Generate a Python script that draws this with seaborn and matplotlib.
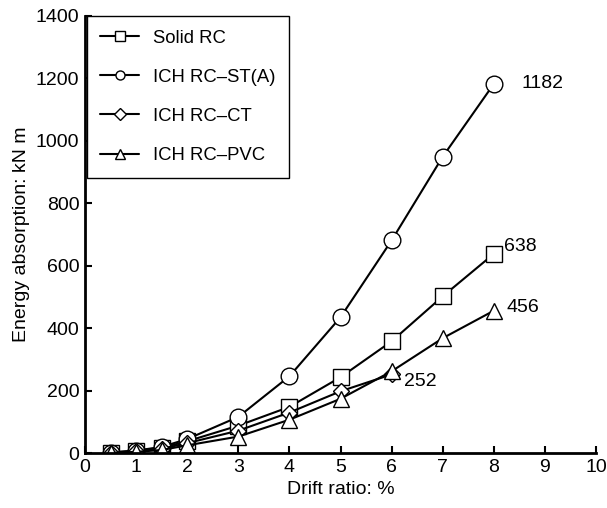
import seaborn as sns
import matplotlib.pyplot as plt
import pandas as pd

drift = [0.5, 1, 1.5, 2, 3, 4, 5, 6, 7, 8]
solid_rc = [2, 8, 17, 38, 88, 148, 243, 358, 502, 638]
ich_st = [2, 8, 20, 45, 116, 246, 435, 681, 949, 1182]
ich_ct = [1, 6, 14, 32, 72, 130, 198, 252, None, None]
ich_pvc = [1, 4, 10, 25, 53, 107, 174, 262, 368, 456]

series = ['Solid RC', 'ICH RC\u2013ST(A)', 'ICH RC\u2013CT', 'ICH RC\u2013PVC']
markers = ['s', 'o', 'D', '^']
sizes = [11, 12, 8, 12]

df = pd.DataFrame({'drift': drift, series[0]: solid_rc, series[1]: ich_st,
                   series[2]: ich_ct, series[3]: ich_pvc})
long = df.melt(id_vars='drift', var_name='series', value_name='energy').dropna()

sns.set_style('ticks', {'axes.edgecolor': 'black', 'text.color': 'black',
                        'axes.labelcolor': 'black', 'xtick.color': 'black',
                        'ytick.color': 'black'})
plt.rcParams['font.family'] = ['Liberation Sans', 'DejaVu Sans']
fs = 14

fig = plt.figure(figsize=(6.07, 5.08), dpi=100)
ax = fig.add_axes([0.140, 0.108, 0.842, 0.861])

for name, m, ms in zip(series, markers, sizes):
    sub = long[long['series'] == name]
    sns.lineplot(data=sub, x='drift', y='energy', ax=ax, color='black', lw=1.5,
                 marker=m, markersize=ms, markerfacecolor='white',
                 markeredgecolor='black', markeredgewidth=1.0, label=name)

# end labels
ax.text(8.55, 1182, '1182', va='center', ha='left', fontsize=fs)
ax.text(8.2, 660, '638', va='center', ha='left', fontsize=fs)
ax.text(8.25, 467, '456', va='center', ha='left', fontsize=fs)
ax.text(6.24, 230, '252', va='center', ha='left', fontsize=fs)

ax.set_xlim(0, 10)
ax.set_ylim(0, 1400)
ax.set_xticks(range(0, 11))
ax.set_yticks(range(0, 1401, 200))
ax.set_xlabel('Drift ratio: %', fontsize=fs)
ax.set_ylabel('Energy absorption: kN m', fontsize=fs)
ax.tick_params(direction='in', length=5, width=1.5, labelsize=fs, pad=4)
for s in ['left', 'bottom']:
    ax.spines[s].set_linewidth(2)
sns.despine(ax=ax)

leg = ax.legend(loc='upper left', bbox_to_anchor=(0.003, 1.0), fontsize=13.3,
                fancybox=False, edgecolor='black', framealpha=1,
                handlelength=2.1, borderpad=0.75, labelspacing=1.2,
                handletextpad=0.75, borderaxespad=0)
for h in leg.legend_handles:
    h.set_markersize(6.5)
leg.get_frame().set_linewidth(1.0)

fig.savefig('out.png', dpi=100)
